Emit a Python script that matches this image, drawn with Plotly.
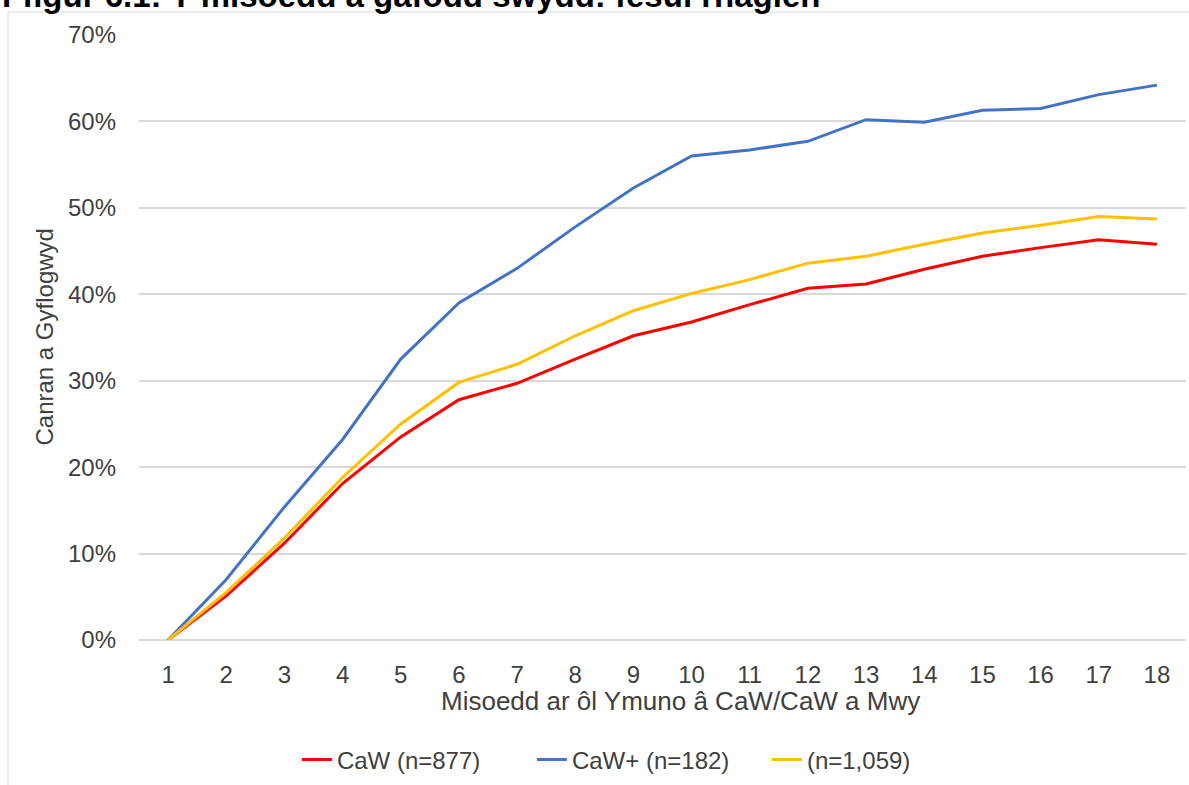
import plotly.graph_objects as go

# ---------------------------------------------------------------------------
# Data
# ---------------------------------------------------------------------------

months = list(range(1, 19))

caw = [0, 5.1, 11.2, 18.1, 23.5, 27.8, 29.7, 32.5, 35.2,
       36.8, 38.8, 40.7, 41.2, 42.9, 44.4, 45.4, 46.3, 45.8]
caw_plus = [0, 7.0, 15.4, 23.2, 32.5, 39.0, 43.0, 47.8, 52.3,
            56.0, 56.7, 57.7, 60.2, 59.9, 61.3, 61.5, 63.1, 64.2]
total = [0, 5.5, 11.8, 18.8, 25.0, 29.8, 31.9, 35.2, 38.1,
         40.1, 41.7, 43.6, 44.4, 45.8, 47.1, 48.0, 49.0, 48.7]

series_names = ["CaW (n=877)", "CaW+ (n=182)", "(n=1,059)"]
series_colors = ["#FF0000", "#4472C4", "#FFC000"]

y_ticks = [0, 10, 20, 30, 40, 50, 60, 70]

TITLE = "Ffigur 6.1: Y misoedd a gafodd swydd: fesul rhaglen"
X_TITLE = "Misoedd ar ôl Ymuno â CaW/CaW a Mwy"
Y_TITLE = "Canran a Gyflogwyd"

FONT = "Liberation Sans, Arial, sans-serif"
TEXT_COLOR = "#404040"

# ---------------------------------------------------------------------------
# Figure
# ---------------------------------------------------------------------------

fig = go.Figure()

for name, values, color in zip(series_names, [caw, caw_plus, total], series_colors):
    fig.add_trace(go.Scatter(
        x=months,
        y=values,
        name=name,
        mode="lines",
        line=dict(color=color, width=3),
    ))

fig.update_layout(
    width=1189,
    height=785,
    margin=dict(l=139, r=3, t=35, b=143),
    plot_bgcolor="white",
    paper_bgcolor="white",
    font=dict(family=FONT, size=24, color=TEXT_COLOR),
    showlegend=True,
    legend=dict(
        orientation="h",
        x=0.4875,
        xanchor="center",
        y=-0.198,
        yanchor="middle",
        font=dict(size=24, color=TEXT_COLOR),
        entrywidth=190,
        entrywidthmode="pixels",
    ),
)

fig.update_xaxes(
    range=[0.5, 18.5],
    tickmode="array",
    tickvals=months,
    ticktext=[str(m) for m in months],
    showgrid=False,
    zeroline=False,
    showline=False,
    ticks="",
    ticklabelstandoff=18,
    fixedrange=True,
)

fig.update_yaxes(
    range=[0, 70],
    tickmode="array",
    tickvals=y_ticks,
    ticktext=[f"{v}%" for v in y_ticks],
    showgrid=True,
    gridcolor="#D9D9D9",
    gridwidth=1.5,
    zeroline=True,
    zerolinecolor="#D9D9D9",
    zerolinewidth=1.5,
    showline=False,
    ticks="",
    ticklabelstandoff=22,
    fixedrange=True,
)

# axis titles placed as annotations to match the reference positions
fig.add_annotation(
    text=X_TITLE, xref="paper", yref="paper",
    x=0.517, y=-0.1005, xanchor="center", yanchor="middle",
    showarrow=False, font=dict(size=26, color=TEXT_COLOR),
)
fig.add_annotation(
    text=Y_TITLE, xref="paper", yref="paper",
    x=-0.0907, y=0.5, xanchor="center", yanchor="middle",
    textangle=-90, showarrow=False, font=dict(size=24, color=TEXT_COLOR),
)

# figure title, cut off by the top edge as in the reference
fig.add_annotation(
    text=f"<b>{TITLE}</b>", xref="paper", yref="paper",
    x=-0.1328, y=1.0313, xanchor="left", yanchor="bottom",
    showarrow=False, font=dict(size=33, color="black"),
)

# chart-area border
fig.add_shape(
    type="rect", xref="paper", yref="paper",
    x0=-0.1251, x1=1.02, y0=-0.4, y1=1.0379,
    line=dict(color="#D9D9D9", width=1), fillcolor="rgba(0,0,0,0)",
    layer="below",
)

fig.write_html(
    "out.html",
    config={"displayModeBar": False},
    post_script="document.body.style.margin='0';",
)
